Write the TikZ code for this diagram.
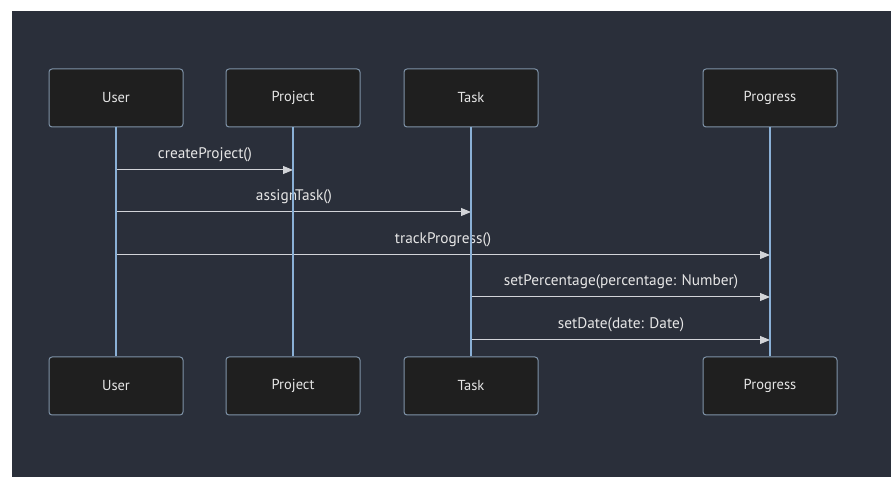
\documentclass[tikz,border=0pt]{standalone}
\usepackage{fontspec}
\setmainfont{PT Sans}
\usetikzlibrary{arrows.meta}
\definecolor{bgc}{HTML}{2A2F3A}
\definecolor{boxfill}{HTML}{1F1F1F}
\definecolor{boxline}{HTML}{7F93A8}
\definecolor{lifec}{HTML}{8AB0D6}
\definecolor{msgc}{HTML}{D2D4D8}
\definecolor{txtc}{HTML}{E6E6E6}
\tikzset{
  actor/.style={draw=boxline, fill=boxfill, line width=1pt, rounded corners=3pt,
    minimum width=134pt, minimum height=58pt, inner sep=0pt,
    text=txtc, font=\fontsize{14.5}{16}\selectfont},
  lifeline/.style={draw=lifec, line width=1.5pt},
  msg/.style={draw=msgc, line width=1pt, -{Triangle[length=10pt,width=8pt]}},
  msglabel/.style={text=txtc, font=\fontsize{15.3}{17}\selectfont, inner sep=0pt}
}
\begin{document}
\begin{tikzpicture}[x=1pt,y=-1pt]
\useasboundingbox (0,0) rectangle (895,486);
\fill[white] (0,0) rectangle (895,486);
\fill[bgc] (12,11) rectangle (891,477);
% top actors
\node[actor] (uT) at (116,98) {User};
\node[actor] (pT) at (293,98) {Project};
\node[actor] (tT) at (471,98) {Task};
\node[actor] (gT) at (770,98) {Progress};
% bottom actors
\node[actor] (uB) at (116,386) {User};
\node[actor] (pB) at (293,386) {Project};
\node[actor] (tB) at (471,386) {Task};
\node[actor] (gB) at (770,386) {Progress};
% message rows
\coordinate (m1) at (0,170);
\coordinate (m2) at (0,212);
\coordinate (m3) at (0,255);
\coordinate (m4) at (0,297);
\coordinate (m5) at (0,340);
% labels
\node[msglabel] (l1) at (205,155) {createProject()};
\node[msglabel] (l2) at (294,197) {assignTask()};
\node[msglabel] (l3) at (443,240) {trackProgress()};
\node[msglabel] (l4) at (621,282) {setPercentage(percentage: Number)};
\node[msglabel] (l5) at (621,325) {setDate(date: Date)};
% messages
\draw[msg] (uT.south |- m1) -- (pT.south |- m1);
\draw[msg] (uT.south |- m2) -- (tT.south |- m2);
\draw[msg] (uT.south |- m3) -- (gT.south |- m3);
\draw[msg] (tT.south |- m4) -- (gT.south |- m4);
\draw[msg] (tT.south |- m5) -- (gT.south |- m5);
% lifelines
\draw[lifeline] (uT.south) -- (uB.north);
\draw[lifeline] (pT.south) -- (pB.north);
\draw[lifeline] (tT.south) -- (tB.north);
\draw[lifeline] (gT.south) -- (gB.north);
\end{tikzpicture}
\end{document}
